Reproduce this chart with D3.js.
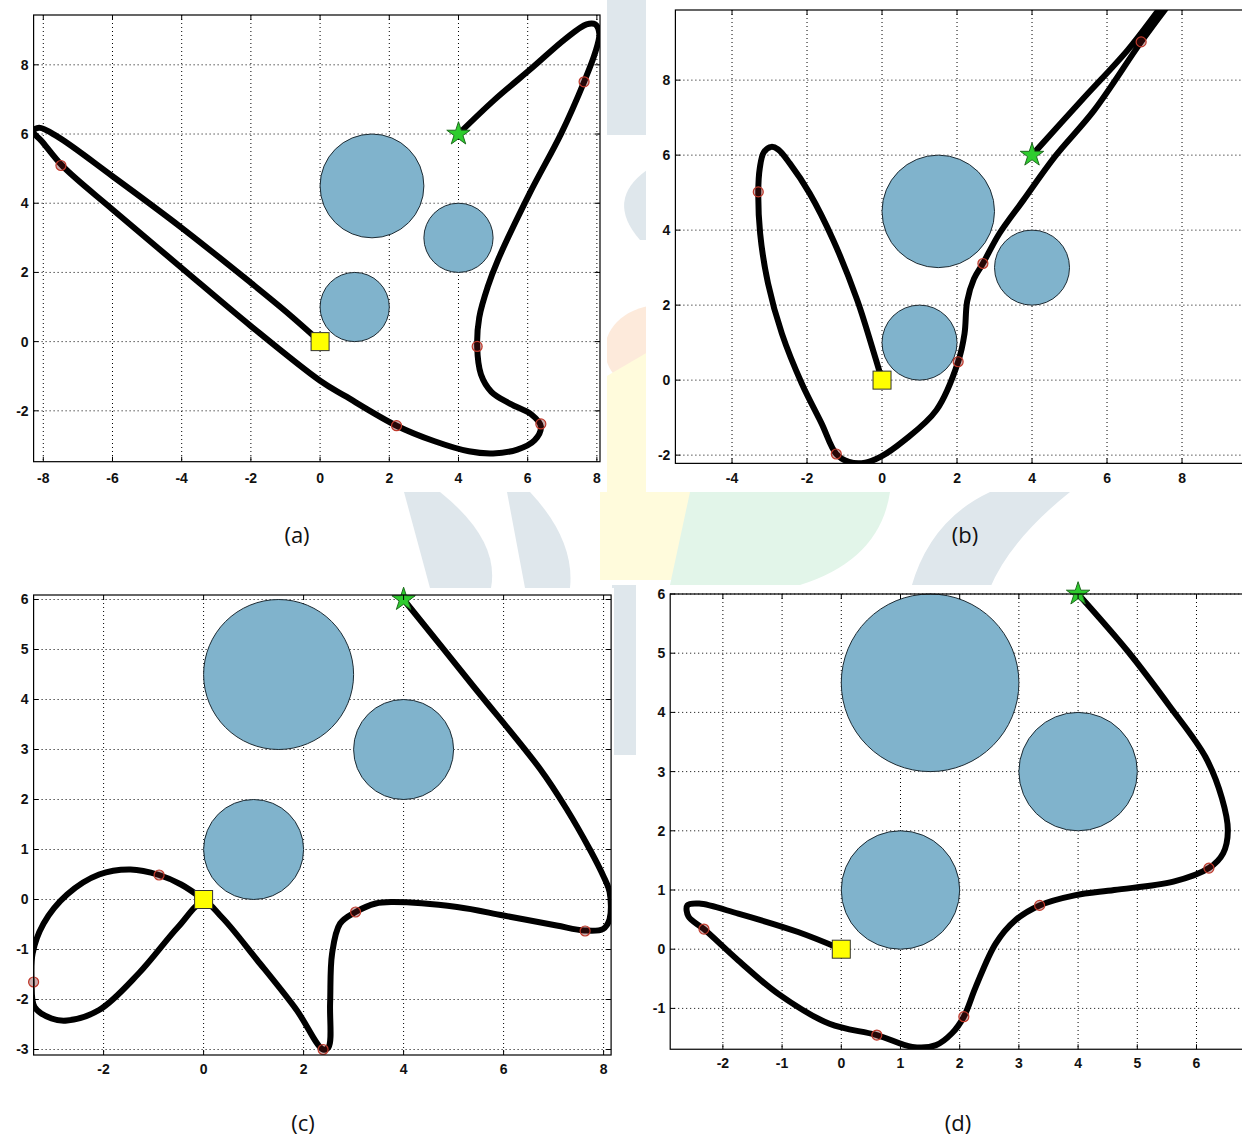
<!DOCTYPE html>
<meta charset="utf-8">
<style>
body { margin: 0; background: #fff; }
.grid line { stroke: #000; stroke-width: 1; stroke-dasharray: 1,3; }
.tick-label { font-family: "Liberation Sans", Arial, sans-serif; font-weight: bold; font-size: 14px; fill: #111; }
.route { fill: none; stroke: #000; stroke-width: 6px; stroke-linejoin: round; stroke-linecap: round; }
.obstacle { fill: #80b3cc; stroke: #1d2b33; stroke-width: 1px; }
.caption { font-family: "Open Sans", "Noto Sans", sans-serif; font-size: 22px; fill: #111; }
</style>
<body>
<script src="https://d3js.org/d3.v7.min.js"></script>
<script>

// obstacles (same three circles in every run)
var obstacleX = [1.5, 4, 1],
    obstacleY = [4.5, 3, 1],
    obstacleR = [1.5, 1, 1];

var startPt = [0, 0],
    goalPt = [4, 6];

// tick values
var xTicksA = [-8, -6, -4, -2, 0, 2, 4, 6, 8],  yTicksA = [-2, 0, 2, 4, 6, 8];
var xTicksB = [-4, -2, 0, 2, 4, 6, 8],          yTicksB = [-2, 0, 2, 4, 6, 8];
var xTicksC = [-2, 0, 2, 4, 6, 8],              yTicksC = [-3, -2, -1, 0, 1, 2, 3, 4, 5, 6];
var xTicksD = [-2, -1, 0, 1, 2, 3, 4, 5, 6],    yTicksD = [-1, 0, 1, 2, 3, 4, 5, 6];

// routes
var pathA = [[0,0],[-1,0.88],[-2,1.7],[-4,3.29],[-6,4.78],[-7.6,5.93],[-8.12,6.18],[-8.3,6.08],
  [-8.05,5.8],[-7.44,5.07],[-6,3.82],[-4,2.13],[-2,0.45],[0,-1.13],[0.72,-1.57],[2.21,-2.43],
  [3.31,-2.88],[4.3,-3.17],[5.0,-3.23],[5.7,-3.12],[6.2,-2.85],[6.38,-2.45],[6.1,-2.1],[5.5,-1.8],
  [4.95,-1.45],[4.65,-0.95],[4.54,-0.14],[4.6,0.7],[4.85,1.6],[5.14,2.36],[6.06,4.29],[6.97,6.02],
  [7.63,7.51],[7.95,8.35],[8.07,8.9],[7.95,9.17],[7.7,9.17],[7.09,8.75],[6.17,7.95],[5.03,6.98],[4,6]];

var pathB = [[0,0],[-0.24,0.8],[-0.66,2.13],[-1.3,3.73],[-1.93,4.98],[-2.46,5.78],[-2.77,6.15],
  [-2.95,6.22],[-3.15,6.08],[-3.26,5.65],[-3.3,5.02],[-3.25,3.91],[-3.04,2.58],[-2.67,1.24],
  [-2.14,-0.09],[-1.61,-1.16],[-1.22,-1.97],[-0.88,-2.18],[-0.45,-2.2],[-0.03,-2.04],[0.6,-1.6],
  [1.45,-0.8],[2.03,0.49],[2.2,1.24],[2.27,2.1],[2.45,2.7],[2.69,3.11],[3.13,3.91],[3.77,4.8],
  [4.61,5.96],[5.66,7.2],[6.91,9.02],[7.56,9.9],[7.95,10.4],[7.75,10.35],[7.4,9.9],[6.55,8.8],
  [5.33,7.47],[4,6]];

var pathC = [[0,0],[-0.45,0.3],[-0.89,0.49],[-1.46,0.6],[-2.09,0.5],[-2.73,0.1],[-3.2,-0.48],
  [-3.42,-1.08],[-3.44,-1.65],[-3.38,-2.15],[-3.04,-2.38],[-2.73,-2.42],[-2.09,-2.21],[-1.3,-1.48],
  [-0.51,-0.55],[0,-0.05],[0.36,-0.35],[1.07,-1.21],[1.86,-2.21],[2.39,-3.0],[2.5,-2.95],
  [2.53,-2.08],[2.57,-1.08],[2.73,-0.48],[3.04,-0.25],[3.44,-0.08],[3.75,-0.05],[5.07,-0.15],
  [6.0,-0.32],[7.06,-0.52],[7.62,-0.62],[7.99,-0.59],[8.12,-0.39],[8.12,0.15],[7.99,0.48],
  [7.72,1.01],[7.26,1.81],[6.73,2.61],[5.4,4.26],[4,6]];

var pathD = [[0,0],[-0.73,0.29],[-1.74,0.6],[-2.4,0.77],[-2.6,0.74],[-2.58,0.55],[-2.32,0.34],
  [-1.74,-0.19],[-1.07,-0.75],[-0.2,-1.26],[0.6,-1.45],[1.2,-1.65],[1.6,-1.62],[1.87,-1.42],
  [2.07,-1.14],[2.27,-0.64],[2.61,0.1],[2.94,0.49],[3.35,0.74],[3.94,0.91],[4.61,1.0],[5.61,1.14],
  [6.21,1.37],[6.45,1.62],[6.53,2.0],[6.43,2.55],[6.15,3.25],[5.55,4.1],[4.85,5.02],[4,6]];

// waypoints (red circles)
var wayA = [[-7.49,5.09],[2.21,-2.43],[6.38,-2.38],[4.54,-0.14],[7.63,7.51]];
var wayB = [[-3.3,5.02],[-1.22,-1.97],[2.03,0.49],[2.69,3.11],[6.91,9.02]];
var wayC = [[-0.89,0.49],[-3.4,-1.65],[2.39,-3.0],[3.04,-0.25],[7.63,-0.63]];
var wayD = [[-2.32,0.34],[0.6,-1.45],[2.07,-1.14],[3.35,0.74],[6.21,1.37]];

var svg = d3.select("body").append("svg")
    .attr("width", 1242)
    .attr("height", 1140);

svg.append("rect").attr("width", 1242).attr("height", 1140).attr("fill", "#fff");

// faint page watermark showing between the figures
var wm = svg.append("g");
wm.append("rect").attr("x", 607).attr("y", 0).attr("width", 40).attr("height", 135).attr("fill", "#dfe7ec");
wm.append("path").attr("d", "M647,170 Q605,200 640,240 L647,240 Z").attr("fill", "#dfe7ec");
wm.append("ellipse").attr("cx", 660).attr("cy", 350).attr("rx", 55).attr("ry", 45).attr("fill", "#fdeadb");
wm.append("path").attr("d", "M600,380 L660,345 L720,420 L720,580 L600,580 Z").attr("fill", "#fffbdc");
wm.append("path").attr("d", "M670,585 L690,492 L890,492 Q880,560 800,585 Z").attr("fill", "#e2f5e9");
wm.append("path").attr("d", "M404,492 L440,492 Q500,540 491,588 L430,588 Z").attr("fill", "#dfe7ec");
wm.append("path").attr("d", "M507,492 L530,492 Q575,540 570,588 L525,588 Z").attr("fill", "#dfe7ec");
wm.append("path").attr("d", "M911,588 Q930,520 990,492 L1070,492 Q1010,540 990,588 Z").attr("fill", "#dfe7ec");
wm.append("rect").attr("x", 612).attr("y", 585).attr("width", 26).attr("height", 170).attr("fill", "#dfe7ec");

// white figure backgrounds
[[0, 0, 607, 492], [646, 0, 596, 492], [0, 588, 614, 502], [636, 585, 606, 500]].forEach(function(r) {
  svg.append("rect").attr("x", r[0]).attr("y", r[1]).attr("width", r[2]).attr("height", r[3]).attr("fill", "#fff");
});

var panels = [
  {id: "a", route: pathA, way: wayA, xt: xTicksA, yt: yTicksA,
   xd: [-8.28, 8.09], yd: [-3.47, 9.44], left: 33.6, top: 15, unit: 34.6, labOff: 21,
   cap: "(a)", capX: 297, capY: 543},
  {id: "b", route: pathB, way: wayB, xt: xTicksB, yt: yTicksB,
   xd: [-5.51, 9.9], yd: [-2.22, 9.87], left: 675.4, top: 10, unit: 37.5, labOff: 20,
   cap: "(b)", capX: 965, capY: 543},
  {id: "c", route: pathC, way: wayC, xt: xTicksC, yt: yTicksC,
   xd: [-3.4, 8.15], yd: [-3.11, 6.09], left: 33.6, top: 595, unit: 50, labOff: 19,
   cap: "(c)", capX: 303, capY: 1131},
  {id: "d", route: pathD, way: wayD, xt: xTicksD, yt: yTicksD,
   xd: [-2.89, 6.9], yd: [-1.69, 6.0], left: 670.2, top: 594, unit: 59.2, labOff: 19,
   cap: "(d)", capX: 958, capY: 1131}
];

panels.forEach(drawPanel);

function drawPanel(p) {
  var w = (p.xd[1] - p.xd[0]) * p.unit,
      h = (p.yd[1] - p.yd[0]) * p.unit;
  var x = d3.scaleLinear().domain(p.xd).range([p.left, p.left + w]);
  var y = d3.scaleLinear().domain(p.yd).range([p.top + h, p.top]);
  var g = svg.append("g");

  g.append("clipPath").attr("id", "clip-" + p.id)
    .append("rect").attr("x", p.left).attr("y", p.top).attr("width", w).attr("height", h);

  // dotted grid
  var grid = g.append("g").attr("class", "grid");
  grid.selectAll(".gx").data(p.xt).enter().append("line")
      .attr("x1", d => x(d)).attr("x2", d => x(d))
      .attr("y1", p.top).attr("y2", p.top + h);
  grid.selectAll(".gy").data(p.yt).enter().append("line")
      .attr("y1", d => y(d)).attr("y2", d => y(d))
      .attr("x1", p.left).attr("x2", p.left + w);

  // obstacles
  g.selectAll(".obstacle").data(obstacleX).enter().append("ellipse")
      .attr("class", "obstacle")
      .attr("cx", d => x(d))
      .attr("cy", (d, i) => y(obstacleY[i]))
      .attr("rx", (d, i) => x(obstacleR[i]) - x(0))
      .attr("ry", (d, i) => y(0) - y(obstacleR[i]));

  // route
  var line = d3.line()
      .x(d => x(d[0]))
      .y(d => y(d[1]))
      .curve(d3.curveCatmullRom.alpha(0.5));
  g.append("path")
      .datum(p.route)
      .attr("class", "route")
      .attr("clip-path", "url(#clip-" + p.id + ")")
      .attr("d", line);

  // waypoints
  g.selectAll(".way").data(p.way).enter().append("circle")
      .attr("cx", d => x(d[0])).attr("cy", d => y(d[1]))
      .attr("r", 5)
      .attr("fill", "rgba(110,20,20,0.35)")
      .attr("stroke", "#c0392b")
      .attr("stroke-width", 1.2);

  // start square
  g.append("rect")
      .attr("x", x(startPt[0]) - 9).attr("y", y(startPt[1]) - 9)
      .attr("width", 18).attr("height", 18)
      .attr("fill", "#ffff00").attr("stroke", "#333").attr("stroke-width", 1);

  // goal star
  g.append("path")
      .attr("transform", "translate(" + x(goalPt[0]) + "," + y(goalPt[1]) + ")")
      .attr("d", d3.symbol().type(d3.symbolStar).size(170)())
      .attr("fill", "#2ecc2e").attr("stroke", "#1e6b1e").attr("stroke-width", 1);

  // box
  g.append("rect")
      .attr("x", p.left).attr("y", p.top).attr("width", w).attr("height", h)
      .attr("fill", "none").attr("stroke", "#000").attr("stroke-width", 1.2);

  // inward tick marks
  var tk = 5;
  p.xt.forEach(function(v) {
    g.append("line").attr("x1", x(v)).attr("x2", x(v)).attr("y1", p.top + h).attr("y2", p.top + h - tk).attr("stroke", "#000");
    g.append("line").attr("x1", x(v)).attr("x2", x(v)).attr("y1", p.top).attr("y2", p.top + tk).attr("stroke", "#000");
  });
  p.yt.forEach(function(v) {
    g.append("line").attr("y1", y(v)).attr("y2", y(v)).attr("x1", p.left).attr("x2", p.left + tk).attr("stroke", "#000");
    g.append("line").attr("y1", y(v)).attr("y2", y(v)).attr("x1", p.left + w).attr("x2", p.left + w - tk).attr("stroke", "#000");
  });

  // tick labels
  g.selectAll(".xl").data(p.xt).enter().append("text")
      .attr("class", "tick-label")
      .attr("x", d => x(d)).attr("y", p.top + h + p.labOff)
      .attr("text-anchor", "middle")
      .text(d => d);
  g.selectAll(".yl").data(p.yt).enter().append("text")
      .attr("class", "tick-label")
      .attr("x", p.left - 5).attr("y", d => y(d)).attr("dy", "0.35em")
      .attr("text-anchor", "end")
      .text(d => d);

  svg.append("text")
      .attr("class", "caption")
      .attr("x", p.capX).attr("y", p.capY)
      .attr("text-anchor", "middle")
      .text(p.cap);
}

</script>
